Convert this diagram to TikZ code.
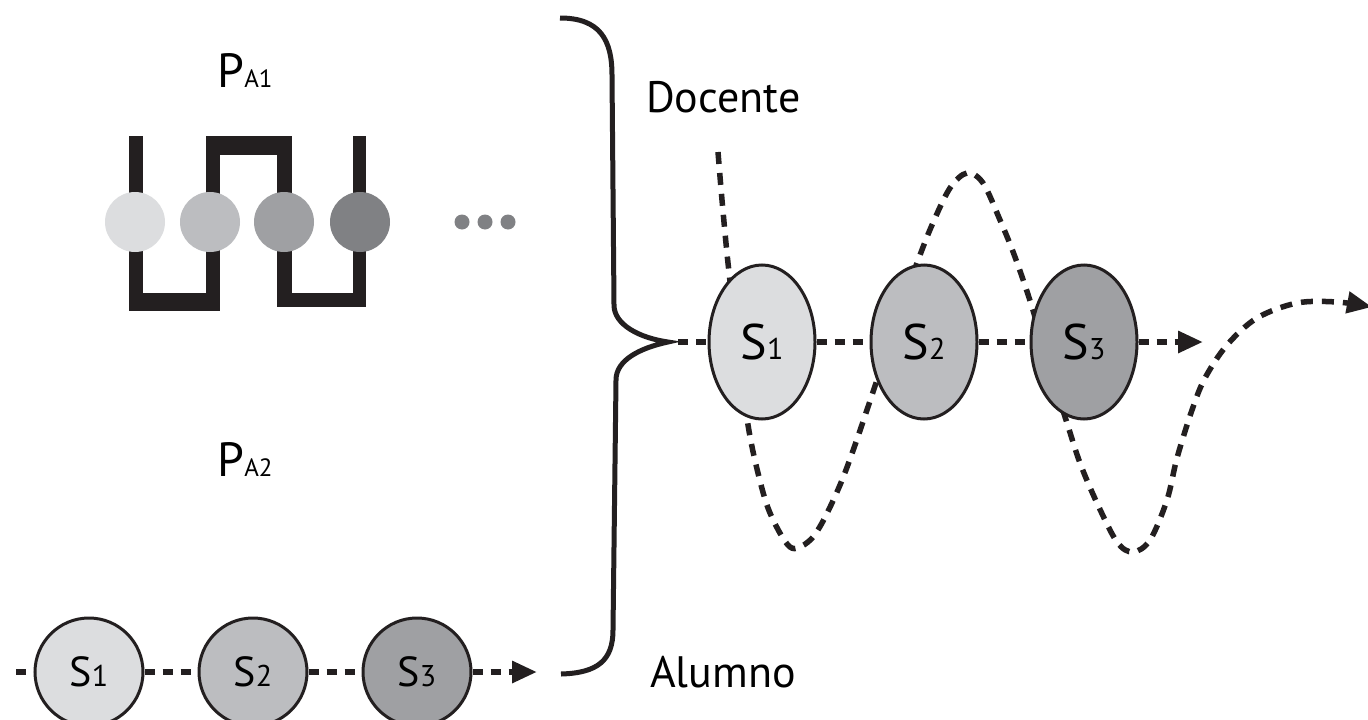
\documentclass[tikz,border=0pt]{standalone}
\usepackage{fontspec}
\setmainfont[Numbers=Lining]{PT Sans}
\usetikzlibrary{shapes.geometric,arrows.meta}
\definecolor{ink}{HTML}{231F20}
\definecolor{gA}{HTML}{DCDDDF}
\definecolor{gB}{HTML}{BCBDC0}
\definecolor{gC}{HTML}{9FA0A3}
\definecolor{gD}{HTML}{808184}
\newcommand{\mysublabel}[4]{{\fontsize{#1}{#1}\selectfont #3}{\fontsize{#2}{#2}\selectfont #4}}
\begin{document}
\begin{tikzpicture}[x=1pt,y=-1pt,
  dline/.style={ink, line width=6pt, dash pattern=on 10pt off 8pt},
  wline/.style={ink, line width=5.5pt, dash pattern=on 12pt off 9pt},
  tipped/.style={-{Triangle[length=25pt,width=21pt]}},
  ell/.style={ellipse, draw=ink, line width=3pt, minimum width=106pt, minimum height=154pt, inner sep=0pt},
  circ/.style={circle, draw=ink, line width=3pt, minimum size=108pt, inner sep=0pt},
  bead/.style={circle, inner sep=0pt, minimum size=60pt},
  smalldot/.style={circle, fill=gD, inner sep=0pt, minimum size=15pt},
  bar/.style={fill=ink},
  lbl/.style={inner sep=0pt, anchor=base west},
]
\useasboundingbox[fill=white] (0,0) rectangle (1368,720);

% ---- top-left: beads with brackets ----
\fill[bar] (129,136) rectangle (143,311);
\fill[bar] (129,293) rectangle (220,311);
\fill[bar] (206,136) rectangle (220,311);
\fill[bar] (206,136) rectangle (292,155);
\fill[bar] (277,136) rectangle (292,307);
\fill[bar] (277,293) rectangle (366,307);
\fill[bar] (353,136) rectangle (366,307);
\node[bead, fill=gA] (c1) at (135,222) {};
\node[bead, fill=gB] (c2) at (210,222) {};
\node[bead, fill=gC] (c3) at (284,222) {};
\node[bead, fill=gD] (c4) at (360,222) {};
\node[smalldot] (d1) at (462,222) {};
\node[smalldot] (d2) at (485,222) {};
\node[smalldot] (d3) at (508,222) {};
\node[inner sep=0pt, anchor=base] (pa1) at (245,87) {\mysublabel{48}{25}{P}{A1}};
\node[inner sep=0pt, anchor=base] (pa2) at (245,476) {\mysublabel{48}{25}{P}{A2}};

% ---- brace ----
\coordinate (bt) at (668,342);
\draw[ink, line width=5pt, line join=miter, miter limit=30]
  (560,18) .. controls (600,18) and (612,40) .. (612,75)
  -- (614,305) .. controls (614,325) and (640,338) .. (bt)
  .. controls (640,348) and (616,360) .. (616,380)
  -- (613,630) .. controls (613,660) and (598,673) .. (561,674);
\node[lbl] (doc) at (646,112) {\fontsize{44}{44}\selectfont Docente};
\node[lbl] (alu) at (650,687) {\fontsize{44}{44}\selectfont Alumno};

% ---- right: wave behind ellipses ----
\draw[wline, tipped] plot[smooth, tension=0.55] coordinates {
 (718,152) (722,200) (728,263) (738,350) (748,425) (758,473) (770,513) (790,547)
 (808,542) (822,523) (840,485) (855,445) (877,380) (900,310) (917,263) (932,225)
 (950,188) (967,173) (983,183) (1000,220) (1015,257) (1032,307) (1050,370)
 (1067,423) (1080,463) (1097,503) (1117,542) (1133,552) (1150,540) (1167,500)
 (1177,458) (1192,410) (1205,378) (1227,345) (1257,318) (1297,303) (1337,302) (1372,307)};
\node[ell, fill=gA] (e1) at (762,342) {\mysublabel{50}{30}{S}{1}};
\node[ell, fill=gB] (e2) at (924,342) {\mysublabel{50}{30}{S}{2}};
\node[ell, fill=gC] (e3) at (1084,342) {\mysublabel{50}{30}{S}{3}};
\coordinate (rs) at (678,342);
\coordinate (re) at (1203,342);
\draw[dline] (rs) -- (e1.west);
\draw[dline] (e1.east) -- (e2.west);
\draw[dline] (e2.east) -- (e3.west);
\draw[dline, tipped] (e3.east) -- (re);

% ---- bottom chain ----
\node[circ, fill=gA] (b1) at (89,672) {\mysublabel{42}{30}{S}{1}};
\node[circ, fill=gB] (b2) at (253,672) {\mysublabel{42}{30}{S}{2}};
\node[circ, fill=gC] (b3) at (417,672) {\mysublabel{42}{30}{S}{3}};
\coordinate (bs) at (16,672);
\coordinate (be) at (537,672);
\draw[dline] (bs) -- (b1.west);
\draw[dline] (b1.east) -- (b2.west);
\draw[dline] (b2.east) -- (b3.west);
\draw[dline, tipped] (b3.east) -- (be);
\end{tikzpicture}
\end{document}
